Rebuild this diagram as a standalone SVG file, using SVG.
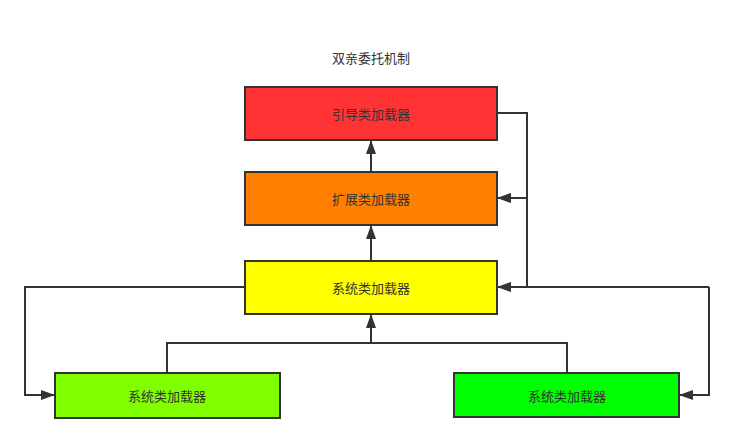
<svg xmlns="http://www.w3.org/2000/svg" width="734" height="442" viewBox="0 0 734 442">
<style>
.box{stroke:#333;stroke-width:2}
.lbl{font-family:"Noto Sans CJK SC","Liberation Sans",sans-serif;font-size:13px;fill:#333;text-anchor:middle;dominant-baseline:central}
.c{fill:none;stroke:#333;stroke-width:2}
</style>
<defs>
<marker id="ah" markerUnits="userSpaceOnUse" markerWidth="14" markerHeight="10" refX="14" refY="5" orient="auto" viewBox="0 0 14 10">
<path d="M0,0 L14,5 L0,10 z" fill="#333"/>
</marker>
</defs>
<rect width="734" height="442" fill="#fff"/>
<text class="lbl" x="371" y="57">双亲委托机制</text>
<g id="connectors">
<path class="c" d="M371,172 V140" marker-end="url(#ah)"/>
<path class="c" d="M371,261 V225" marker-end="url(#ah)"/>
<path class="c" d="M167,373 V343 H371 V314" marker-end="url(#ah)"/>
<path class="c" d="M567,373 V343 H371"/>
<path class="c" d="M497,113 H527 V287"/>
<path class="c" d="M527,198 H497" marker-end="url(#ah)"/>
<path class="c" d="M709,287 H497" marker-end="url(#ah)"/>
<path class="c" d="M709,287 V395 H679" marker-end="url(#ah)"/>
<path class="c" d="M245,287 H25 V395 H55" marker-end="url(#ah)"/>
</g>
<g id="n1"><rect class="box" x="245" y="87" width="252" height="53" fill="#FF3333"/><text class="lbl" x="371" y="113">引导类加载器</text></g>
<g id="n2"><rect class="box" x="245" y="172" width="252" height="53" fill="#FF8000"/><text class="lbl" x="371" y="198">扩展类加载器</text></g>
<g id="n3"><rect class="box" x="245" y="261" width="252" height="53" fill="#FFFF00"/><text class="lbl" x="371" y="287">系统类加载器</text></g>
<g id="n4"><rect class="box" x="55" y="373" width="225" height="45" fill="#80FF00"/><text class="lbl" x="167" y="395">系统类加载器</text></g>
<g id="n5"><rect class="box" x="454" y="373" width="225" height="44" fill="#00FF00"/><text class="lbl" x="567" y="395">系统类加载器</text></g>
</svg>
